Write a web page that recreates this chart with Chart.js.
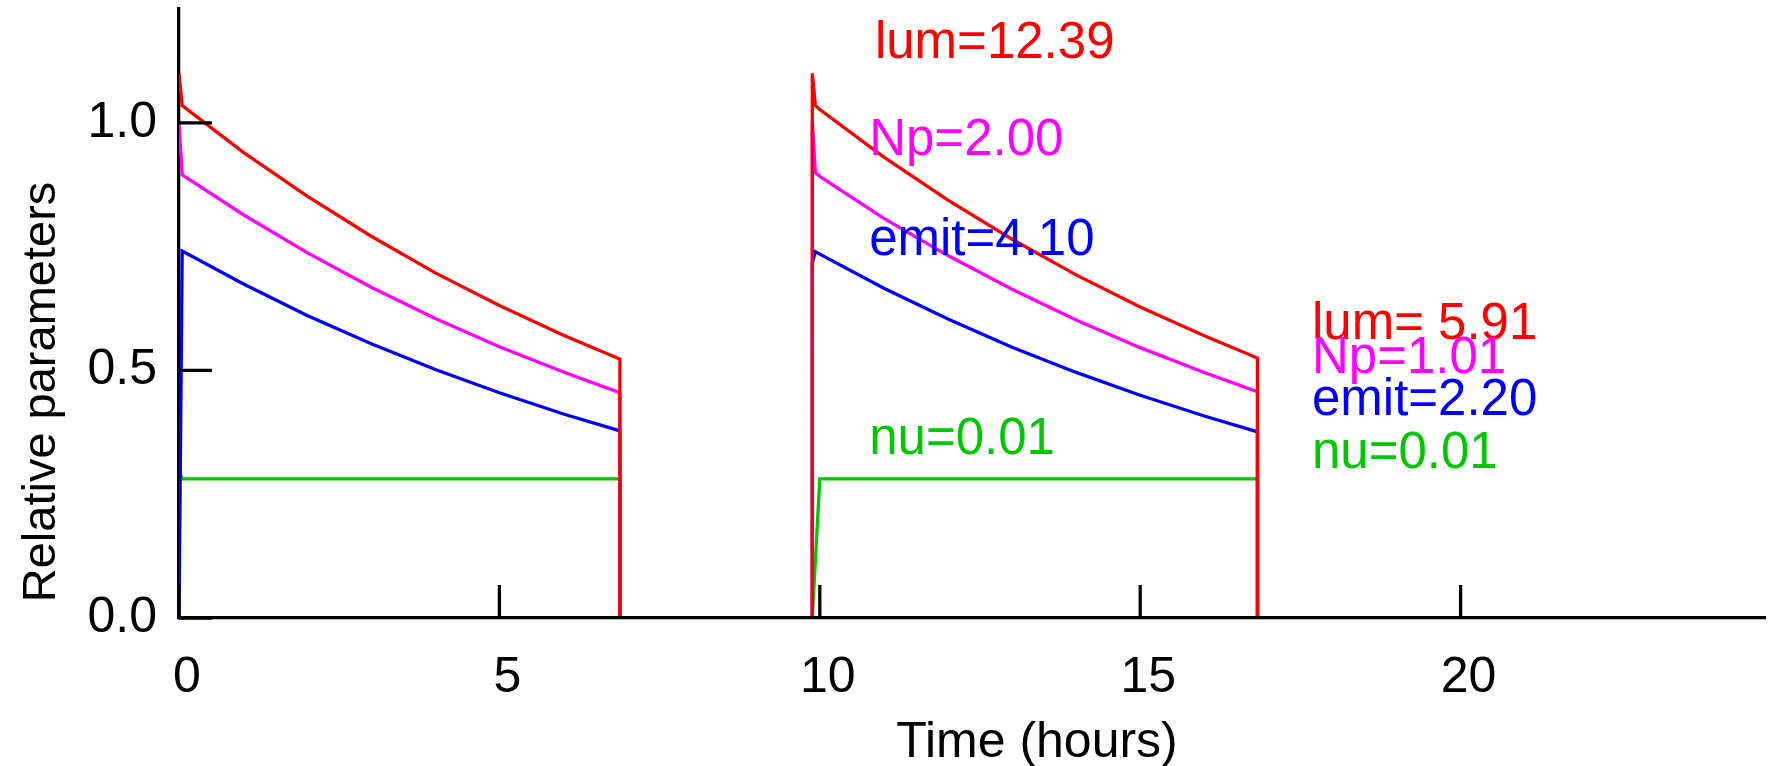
<!DOCTYPE html>
<html>
<head>
<meta charset="utf-8">
<script src="https://cdn.jsdelivr.net/npm/chart.js@4.4.1/dist/chart.umd.min.js"></script>
<style>
  html, body { margin: 0; padding: 0; background: #fff; }
  #wrap { width: 1773px; height: 766px; }
</style>
</head>
<body>
<div id="wrap"><canvas id="chart"></canvas></div>
<script>
// time in hours, two fills; zeros between them sit on the x axis
const time = [0, 0.05, 1, 2, 3, 4, 5, 6, 6.88, 6.88, 9.883, 9.883, 9.93, 10.0, 11, 12, 13, 14, 15, 16, 16.83, 16.83];
const lum  = [1.10, 1.035, 0.941, 0.852, 0.771, 0.697, 0.631, 0.571, 0.523, 0, 0, 1.10, 1.035, 1.027, 0.931, 0.844, 0.765, 0.693, 0.628, 0.570, 0.525, 0];
const np   = [1.00, 0.895, 0.815, 0.738, 0.668, 0.605, 0.548, 0.497, 0.455, 0, 0, 1.004, 0.900, 0.892, 0.807, 0.732, 0.664, 0.602, 0.546, 0.496, 0.457, 0];
const emit = [0, 0.741, 0.675, 0.611, 0.554, 0.502, 0.455, 0.412, 0.378, 0, 0, 0.717, 0.740, 0.735, 0.666, 0.604, 0.547, 0.496, 0.450, 0.408, 0.376, 0];
const nu   = [0.298, 0.281, 0.281, 0.281, 0.281, 0.281, 0.281, 0.281, 0.281, 0, 0, 0, null, 0.281, 0.281, 0.281, 0.281, 0.281, 0.281, 0.281, 0.281, 0];

const xTicks = [0, 5, 10, 15, 20];
const yTicks = [0, 0.5, 1.0];

// per-fill summary text, anchored in data units (hours, relative value)
const noteText = ['lum=12.39', 'Np=2.00', 'emit=4.10', 'nu=0.01', 'lum= 5.91', 'Np=1.01', 'emit=2.20', 'nu=0.01'];
const noteX    = [10.86, 10.77, 10.77, 10.77, 17.68, 17.68, 17.68, 17.68];
const noteY    = [1.132, 0.935, 0.733, 0.332, 0.564, 0.495, 0.411, 0.302];
const noteSeries = [0, 1, 2, 3, 0, 1, 2, 3];

const colors = ['rgb(255,0,0)', 'rgb(255,0,255)', 'rgb(0,0,255)', 'rgb(0,200,0)'];
const FONT = "'Liberation Sans', Arial, sans-serif";

const pts = vals => time.map((t, i) => ({ x: t, y: vals[i] }));

const series = [lum, np, emit, nu].map((vals, i) => ({
  data: pts(vals),
  borderColor: colors[i],
  borderWidth: 3.3,
  pointRadius: 0,
  tension: 0,
  spanGaps: true,
  fill: false
}));

// no automatic label overflow padding, the plot box is fixed
const noPad = s => { s.paddingTop = 0; s.paddingBottom = 0; s.paddingLeft = 0; s.paddingRight = 0; };

const extras = {
  id: 'extras',
  afterDatasetsDraw(chart) {
    const { ctx, scales: { x, y } } = chart;
    ctx.save();
    ctx.font = '51px ' + FONT;
    ctx.textAlign = 'left';
    ctx.textBaseline = 'alphabetic';
    noteText.forEach((t, i) => {
      ctx.fillStyle = colors[noteSeries[i]];
      ctx.fillText(t, x.getPixelForValue(noteX[i]), y.getPixelForValue(noteY[i]));
    });
    ctx.restore();
  },
  afterDraw(chart) {
    const { ctx, chartArea: a, scales: { x, y } } = chart;
    ctx.save();
    // inward tick marks
    ctx.strokeStyle = '#000';
    ctx.lineWidth = 3.3;
    ctx.beginPath();
    xTicks.forEach(v => {
      const px = x.getPixelForValue(v);
      ctx.moveTo(px, a.bottom);
      ctx.lineTo(px, a.bottom - 33);
    });
    yTicks.forEach(v => {
      const py = y.getPixelForValue(v);
      ctx.moveTo(a.left, py);
      ctx.lineTo(a.left + 33, py);
    });
    ctx.stroke();

    // axis titles
    ctx.fillStyle = '#000';
    ctx.textAlign = 'center';
    ctx.textBaseline = 'alphabetic';
    ctx.font = '50px ' + FONT;
    ctx.fillText('Time (hours)', a.left + 858, a.bottom + 139);
    ctx.font = '47px ' + FONT;
    ctx.translate(a.left - 124, a.bottom - 226);
    ctx.rotate(-Math.PI / 2);
    ctx.fillText('Relative parameters', 0, 0);
    ctx.restore();
  }
};

new Chart(document.getElementById('chart'), {
  type: 'line',
  data: { datasets: series },
  options: {
    responsive: true,
    maintainAspectRatio: false,
    animation: false,
    layout: { autoPadding: false, padding: { left: 0, right: 8, top: 9, bottom: 0 } },
    plugins: { legend: { display: false }, tooltip: { enabled: false } },
    scales: {
      x: {
        type: 'linear',
        min: 0,
        max: 24.75,
        afterBuildTicks: s => { s.ticks = xTicks.map(v => ({ value: v })); },
        afterFit: s => { s.height = 148; noPad(s); },
        grid: { display: false, drawTicks: false },
        border: { display: true, color: '#000', width: 3.3, z: 1 },
        ticks: {
          color: '#000',
          font: { family: FONT, size: 50 },
          padding: 30,
          labelOffset: 8,
          maxRotation: 0,
          callback: v => String(v)
        }
      },
      y: {
        min: 0,
        max: 1.23,
        afterBuildTicks: s => { s.ticks = yTicks.map(v => ({ value: v })); },
        afterFit: s => { s.width = 179; noPad(s); },
        grid: { display: false, drawTicks: false },
        border: { display: true, color: '#000', width: 3.3 },
        ticks: {
          color: '#000',
          font: { family: FONT, size: 50 },
          padding: 22,
          callback: v => v.toFixed(1)
        }
      }
    }
  },
  plugins: [extras]
});
</script>
</body>
</html>
